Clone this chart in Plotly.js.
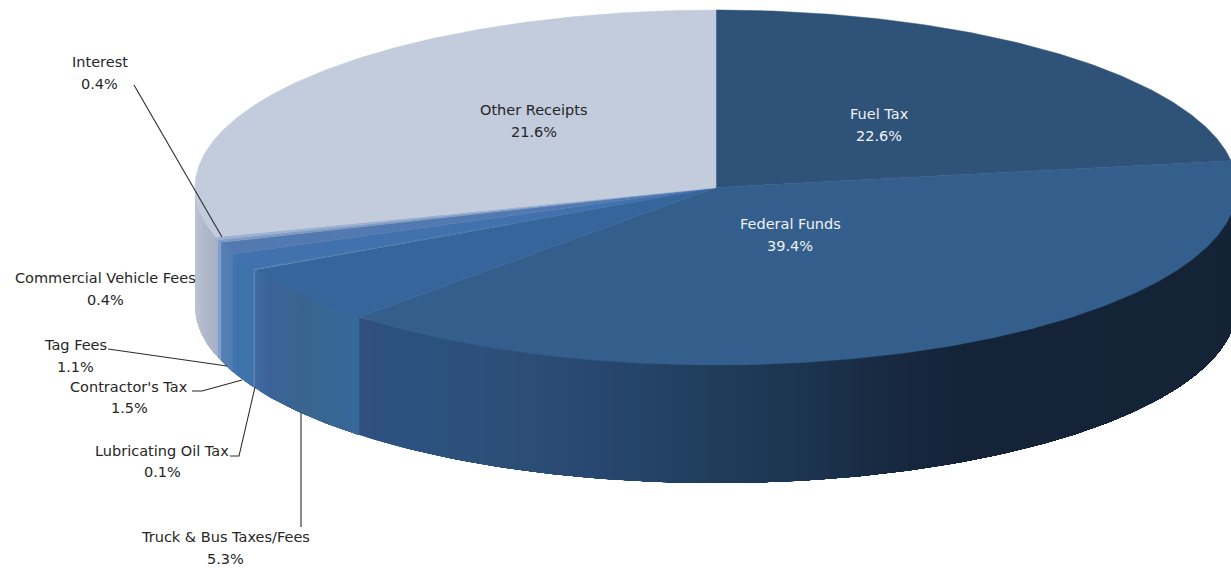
<!DOCTYPE html>
<html>
<head>
<meta charset="utf-8">
<script src="https://cdn.plot.ly/plotly-3.0.1.min.js"></script>
<style>html,body{margin:0;padding:0;background:#fff;overflow:hidden}#chart{width:1231px;height:568px}</style>
</head>
<body>
<div id="chart"></div>
<script>
// ---- data ----
var categories = ["Fuel Tax","Federal Funds","Truck & Bus Taxes/Fees","Lubricating Oil Tax","Contractor's Tax","Tag Fees","Commercial Vehicle Fees","Interest","Other Receipts"];
var printedLabels = ["22.6%","39.4%","5.3%","0.1%","1.5%","1.1%","0.4%","0.4%","21.6%"];
// The size each slice is actually drawn at (Other Receipts is drawn larger than its printed label).
var drawnShares = [22.6,39.4,5.3,0.1,1.5,1.1,0.25,0.25,29.5];

// ---- styles ----
var topColors = ["#2f5279","#345e8b","#35659a","#3a6ba3","#4272ad","#5379b1","#7f9ac4","#9fb1d0","#c2ccdd"];
var wallStops = [
  [[1,"#14243a"]],
  [[358,"#324f7e"],[400,"#2b5280"],[500,"#2c4f78"],[600,"#284770"],[716,"#1f3d5a"],[800,"#1c3450"],[900,"#17283f"],[960,"#142338"],[1231,"#142436"]],
  [[253,"#3e6ca3"],[272,"#3c6398"],[305,"#39648f"],[358,"#37689a"]],
  [[0,"#3e72ab"]],
  [[232,"#3f74ad"],[253,"#3e72aa"]],
  [[217,"#5a82b6"],[232,"#4f7cb2"]],
  [[0,"#7f9ac4"]],
  [[0,"#9fb1d0"]],
  [[195,"#bcc4d4"],[205,"#b0b9cb"],[217,"#a8b1c3"]]
];
var labelColors = ["#eef2f7","#eef2f7","#262626","#262626","#262626","#262626","#262626","#262626","#262626"];
var labelCenters = [[879,114,136],[790,224,246],[225,537,559],[162,451,472],[129,387,408],[75,345,367],[105,278,300],[99.5,62,84],[534,110,132]];
var leaders = [
  {x:[301,301],y:[413,527]},
  {x:[230,239,255],y:[456,456,387]},
  {x:[192,202,242],y:[391,391,380]},
  {x:[108,227],y:[349,366]},
  {x:[134,222],y:[85,237]}
];
var CX=716, CY=187.5, RX=521, RY=177.5, DEPTH=118;

function px(a){return CX+RX*Math.sin(a);}
function py(a){return CY-RY*Math.cos(a);}
function hex(c){return [1,3,5].map(function(i){return parseInt(c.substr(i,2),16);});}
function shade(stops,x){
  if(stops.length===1) return stops[0][1];
  if(x<=stops[0][0]) return stops[0][1];
  for(var i=1;i<stops.length;i++){
    if(x<=stops[i][0]){
      var t=(x-stops[i-1][0])/(stops[i][0]-stops[i-1][0]);
      var p=hex(stops[i-1][1]),q=hex(stops[i][1]);
      return "rgb("+p.map(function(v,k){return Math.round(v+(q[k]-v)*t);}).join(",")+")";
    }
  }
  return stops[stops.length-1][1];
}

var total=drawnShares.reduce(function(a,b){return a+b;},0);
var traces=[], tops=[], cum=0, walls=[];
drawnShares.forEach(function(v,i){
  var a0=cum/total*2*Math.PI, a1=(cum+v)/total*2*Math.PI; cum+=v;
  // top face
  var xs=[CX], ys=[CY], n=Math.max(2,Math.ceil((a1-a0)/0.01));
  for(var k=0;k<=n;k++){var a=a0+(a1-a0)*k/n; xs.push(px(a)); ys.push(py(a));}
  xs.push(CX); ys.push(CY);
  tops.push({x:xs,y:ys,mode:"lines",fill:"toself",fillcolor:topColors[i],line:{color:topColors[i],width:0.5},hoverinfo:"skip"});
  // wall: only the front half of the rim is visible. Each band runs from its own far
  // edge back to the slice start, and is covered by the next band, so no seam shows.
  var w0=Math.max(a0,Math.PI/2), w1=Math.min(a1,1.5*Math.PI);
  if(w1>w0){
    var m=Math.max(1,Math.ceil((w1-w0)/0.02));
    for(var j=0;j<m;j++){
      var b0=w0+(w1-w0)*j/m, b1=w0+(w1-w0)*(j+1)/m;
      var col=shade(wallStops[i],(px(b0)+px(b1))/2);
      var arcX=[],arcY=[],s,steps=Math.max(2,Math.ceil((b1-w0)/0.01));
      for(s=0;s<=steps;s++){var c=b1+(w0-b1)*s/steps; arcX.push(px(c)); arcY.push(py(c));}
      var backX=arcX.slice().reverse(), backY=arcY.slice().reverse().map(function(y){return y+DEPTH;});
      walls.push({far:b1,trace:{x:arcX.concat(backX,[arcX[0]]),y:arcY.concat(backY,[arcY[0]]),
                   mode:"lines",fill:"toself",fillcolor:col,line:{color:col,width:0},hoverinfo:"skip"}});
    }
  }
});
// Largest angle first: smaller bands are laid over it.
walls.sort(function(p,q){return q.far-p.far;});
traces=traces.concat(walls.map(function(w){return w.trace;}));
traces=traces.concat(tops);
leaders.forEach(function(l){
  traces.push({x:l.x,y:l.y,mode:"lines",line:{color:"#2b2b2b",width:1.1},hoverinfo:"skip"});
});

var notes=[];
var FONT='"DejaVu Sans", sans-serif';
categories.forEach(function(c,i){
  var p=labelCenters[i];
  [[c,p[1]],[printedLabels[i],p[2]]].forEach(function(t){
    notes.push({x:p[0],y:t[1],xref:"x",yref:"y",text:t[0],showarrow:false,xanchor:"center",yanchor:"middle",
                font:{family:FONT,size:14.5,color:labelColors[i]}});
  });
});

var hidden={visible:false,fixedrange:true};
Plotly.newPlot("chart",traces,{
  width:1231,height:568,margin:{l:0,r:0,t:0,b:0,pad:0},
  paper_bgcolor:"#fff",plot_bgcolor:"#fff",showlegend:false,hovermode:false,
  xaxis:Object.assign({range:[0,1231]},hidden),
  yaxis:Object.assign({range:[568,0]},hidden),
  annotations:notes
},{displayModeBar:false,staticPlot:true});
</script>
</body>
</html>
